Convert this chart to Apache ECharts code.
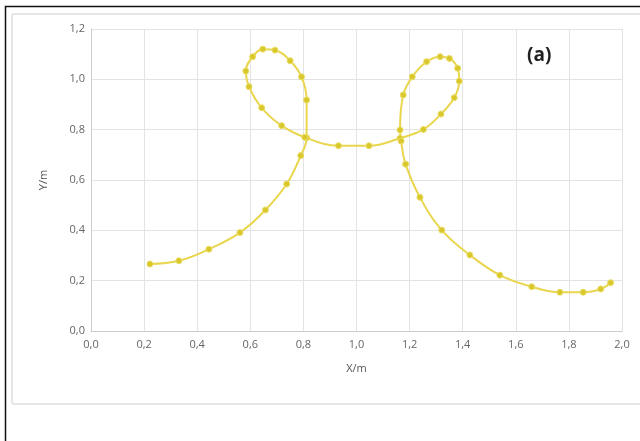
<!DOCTYPE html>
<html>
<head>
<meta charset="utf-8">
<script src="https://cdn.jsdelivr.net/npm/echarts@6/dist/echarts.min.js"></script>
<style>html,body{margin:0;padding:0;background:#fff;}#c{width:640px;height:441px;}</style>
</head>
<body>
<div id="c"></div>
<script>
var xValues = [0.222,0.331,0.444,0.561,0.657,0.737,0.790,0.812,0.812,0.793,0.750,0.693,0.647,0.609,0.583,0.595,0.643,0.718,0.805,0.932,1.047,1.164,1.252,1.318,1.368,1.387,1.381,1.350,1.315,1.264,1.210,1.176,1.164,1.168,1.185,1.239,1.321,1.427,1.540,1.660,1.766,1.854,1.920,1.957];
var yValues = [0.266,0.279,0.325,0.391,0.481,0.584,0.697,0.768,0.918,1.010,1.074,1.116,1.120,1.090,1.033,0.971,0.887,0.816,0.770,0.736,0.736,0.766,0.801,0.862,0.927,0.993,1.044,1.083,1.090,1.070,1.010,0.938,0.799,0.755,0.663,0.531,0.401,0.302,0.222,0.176,0.154,0.154,0.167,0.192];
var xTicks = [0,0.2,0.4,0.6,0.8,1.0,1.2,1.4,1.6,1.8,2.0];
var yTicks = [0,0.2,0.4,0.6,0.8,1.0,1.2];
var panelLabel = '(a)';

var points = xValues.map(function(x,i){ return [x, yValues[i]]; });
function fmt(v){ return v.toFixed(1).replace('.', ','); }

var chart = echarts.init(document.getElementById('c'), null, {renderer:'canvas'});
chart.setOption({
  animation:false,
  backgroundColor:'#fff',
  graphic:[
    {type:'rect', shape:{x:5.5,y:6.5,width:660,height:460}, style:{fill:'none', stroke:'#111', lineWidth:1.5}, z:-10},
    {type:'rect', shape:{x:12,y:14,width:660,height:390,r:2}, style:{fill:'none', stroke:'#e6e6e6', lineWidth:2}, z:-9},
    {type:'text', left:527, top:46, style:{text:panelLabel, font:'bold 19px "Open Sans", sans-serif', fill:'#222'}}
  ],
  grid:{left:91, right:18, top:29, bottom:110},
  xAxis:{
    type:'value', min:xTicks[0], max:xTicks[xTicks.length-1], interval:0.2,
    name:'X/m', nameLocation:'middle', nameGap:32,
    nameTextStyle:{color:'#555', fontSize:11, fontFamily:'Open Sans'},
    axisLine:{lineStyle:{color:'#ccc'}}, axisTick:{show:false},
    axisLabel:{color:'#666', fontSize:11, fontFamily:'Open Sans', formatter:fmt, margin:8},
    splitLine:{show:true, lineStyle:{color:'#e3e3e3'}}
  },
  yAxis:{
    type:'value', min:yTicks[0], max:yTicks[yTicks.length-1], interval:0.2,
    name:'Y/m', nameLocation:'middle', nameGap:42, nameRotate:90,
    nameTextStyle:{color:'#555', fontSize:11, fontFamily:'Open Sans'},
    axisLine:{show:true, lineStyle:{color:'#ccc'}}, axisTick:{show:false},
    axisLabel:{color:'#666', fontSize:11, fontFamily:'Open Sans', formatter:fmt, margin:6},
    splitLine:{show:true, lineStyle:{color:'#e3e3e3'}}
  },
  series:[{
    type:'line', data:points, smooth:0.4,
    symbol:'circle', symbolSize:6,
    lineStyle:{color:'#e9d64e', width:2},
    itemStyle:{color:'#d9c82c', borderColor:'#ebdd66', borderWidth:1}
  }]
});
</script>
</body>
</html>
